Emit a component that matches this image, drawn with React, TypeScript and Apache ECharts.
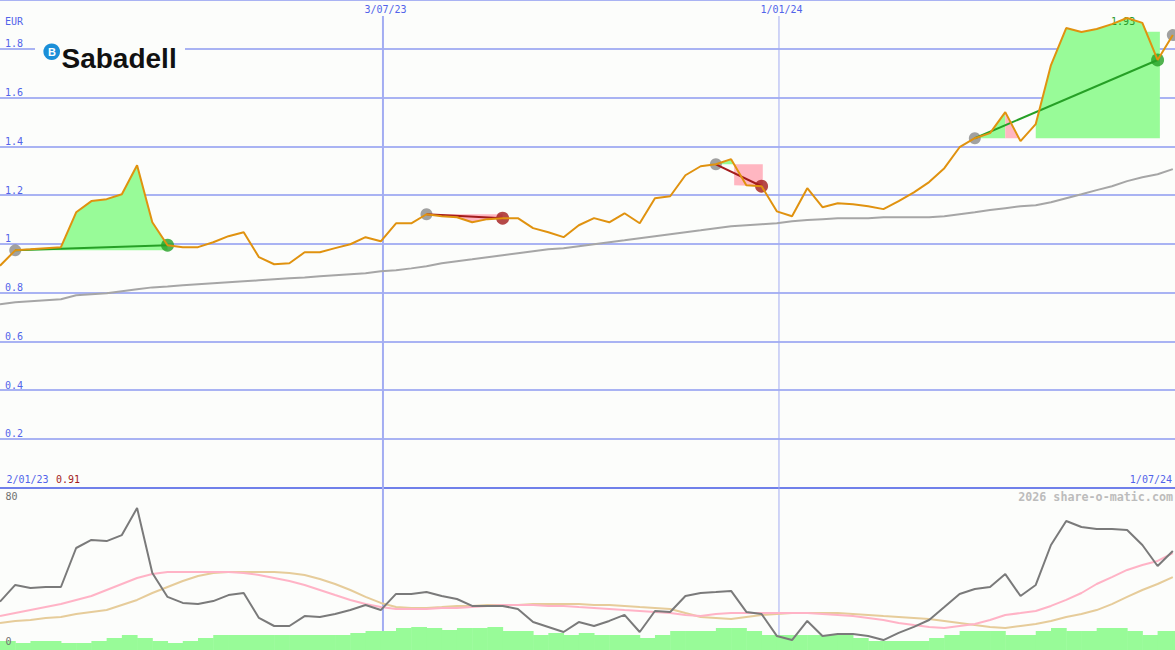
import React, { useEffect, useRef } from "react";
import * as echarts from "echarts";

// ---- dates / labels ----
const originDate = "2023-01-08"; // date of the first weekly point
const endDate = "2024-07-01";
const gridDates = ["2023-07-03", "2024-01-01"];
const gridDateLabels = ["3/07/23", "1/01/24"];
const startLabel = "2/01/23";
const endLabel = "1/07/24";
const currency = "EUR";
const credit = "2026 share-o-matic.com";
const logoText = "Sabadell";

// ---- weekly price (EUR) ----
const prices = [
  0.91, 0.973, 0.977, 0.982, 0.986, 1.129, 1.175, 1.183, 1.203, 1.322,
  1.088, 0.994, 0.986, 0.986, 1.006, 1.031, 1.047, 0.945, 0.916, 0.92,
  0.965, 0.965, 0.982, 0.998, 1.027, 1.01, 1.084, 1.084, 1.121, 1.113,
  1.109, 1.088, 1.101, 1.105, 1.105, 1.064, 1.047, 1.027, 1.076, 1.105,
  1.088, 1.125, 1.084, 1.187, 1.195, 1.281, 1.318, 1.326, 1.347, 1.24,
  1.236, 1.133, 1.113, 1.228, 1.15, 1.166, 1.162, 1.154, 1.142, 1.175,
  1.211, 1.253, 1.31, 1.396, 1.433, 1.454, 1.54, 1.421, 1.491, 1.733,
  1.885, 1.869, 1.881, 1.901, 1.926, 1.906, 1.754, 1.856,
];

// ---- long moving average ----
const movingAvg = [
  0.752, 0.76, 0.764, 0.768, 0.772, 0.789, 0.793, 0.797, 0.805, 0.813,
  0.821, 0.825, 0.83, 0.834, 0.838, 0.842, 0.846, 0.85, 0.854, 0.858,
  0.862, 0.867, 0.871, 0.875, 0.879, 0.887, 0.891, 0.899, 0.908, 0.92,
  0.928, 0.936, 0.945, 0.953, 0.961, 0.969, 0.977, 0.982, 0.99, 0.998,
  1.006, 1.014, 1.023, 1.031, 1.039, 1.047, 1.055, 1.064, 1.072, 1.076,
  1.08, 1.084, 1.092, 1.097, 1.101, 1.105, 1.105, 1.105, 1.109, 1.109,
  1.109, 1.109, 1.113, 1.121, 1.129, 1.138, 1.146, 1.154, 1.158, 1.17,
  1.187, 1.203, 1.22, 1.236, 1.257, 1.273, 1.285, 1.306,
];

// ---- lower panel oscillator (0..80) ----
const oscillator = [
  25.8, 34.7, 33.1, 33.6, 33.6, 54.4, 58.7, 58.1, 61.3, 75.7,
  41.1, 28.3, 25.1, 24.5, 26.1, 29.3, 30.4, 17.1, 12.8, 12.8,
  18.1, 17.6, 19.2, 21.3, 24.0, 21.3, 29.9, 29.9, 30.9, 28.8,
  27.2, 23.5, 23.5, 23.5, 21.9, 14.9, 12.3, 9.6, 14.9, 12.8,
  15.5, 18.7, 9.6, 20.8, 20.3, 28.8, 30.4, 30.9, 31.5, 20.3,
  19.2, 7.5, 5.3, 15.5, 7.5, 8.5, 8.5, 7.5, 5.3, 9.1,
  12.3, 16.0, 22.9, 29.9, 32.5, 33.6, 40.5, 28.8, 34.7, 56.0,
  68.8, 65.6, 64.5, 64.5, 64.0, 56.0, 44.8, 52.8,
];
const oscFast = [
  18.1, 19.7, 21.3, 22.9, 24.5, 26.7, 28.8, 32.0, 35.2, 38.4,
  40.5, 41.6, 41.6, 41.6, 41.6, 41.6, 41.1, 40.0, 38.4, 36.8,
  34.7, 32.0, 29.3, 26.7, 24.5, 22.9, 21.9, 21.9, 21.9, 22.4,
  22.4, 22.9, 23.5, 24.0, 24.0, 24.0, 23.5, 23.5, 22.9, 22.4,
  21.9, 21.3, 20.8, 20.3, 19.7, 18.7, 18.1, 19.2, 19.7, 19.7,
  19.7, 19.7, 19.7, 19.7, 19.2, 18.7, 18.1, 17.1, 16.0, 14.4,
  13.3, 12.3, 11.7, 12.8, 13.9, 16.0, 18.7, 19.7, 20.8, 23.5,
  26.7, 30.4, 35.2, 38.9, 42.7, 45.3, 47.5, 51.7,
];
const oscSlow = [
  14.4, 15.5, 16.0, 17.1, 17.6, 19.2, 20.3, 21.3, 24.0, 26.7,
  30.4, 33.6, 36.8, 39.5, 41.1, 41.6, 41.6, 41.6, 41.6, 41.1,
  40.0, 37.9, 35.2, 32.0, 28.3, 25.1, 22.9, 22.4, 22.4, 22.9,
  23.5, 23.5, 24.0, 24.0, 24.0, 24.5, 24.5, 24.5, 24.5, 24.0,
  24.0, 23.5, 22.9, 22.4, 21.9, 19.7, 17.6, 17.1, 16.5, 17.6,
  18.7, 19.2, 19.7, 19.7, 19.7, 19.7, 19.2, 18.7, 18.1, 17.6,
  17.1, 16.5, 15.5, 14.4, 13.3, 12.3, 11.7, 12.8, 13.9, 15.5,
  17.6, 19.2, 21.3, 24.5, 28.3, 32.0, 35.2, 38.9,
];
// ---- weekly volume (relative units) ----
const volume = [
  9, 7, 9, 9, 7, 7, 9, 12, 15, 12,
  9, 7, 9, 12, 15, 15, 15, 15, 15, 15,
  15, 15, 15, 17, 19, 19, 22, 23, 22, 20,
  22, 22, 23, 19, 19, 15, 17, 15, 17, 15,
  15, 15, 12, 15, 19, 19, 19, 22, 22, 19,
  15, 15, 15, 15, 15, 15, 12, 9, 9, 9,
  9, 12, 15, 19, 19, 19, 15, 15, 19, 22,
  19, 19, 22, 22, 19, 15, 19, 19,
];

// ---- trades (week indices) ----
const tradeEntries = [1, 28, 47, 64, 77];
const tradeExits = [11, 33, 50, 76];

// ---- fill profiles (week, price) ----
const fillTrade3Up = [[47, 1.326], [48, 1.347], [48.2, 1.326]];
const fillTrade3Down = [[48.2, 1.24], [50.08, 1.236]];
const fillTrade4UpA = [[64, 1.433], [65, 1.454], [66, 1.54]];
const fillTrade4Down = [[66, 1.54], [66.9, 1.433]];
const fillTrade4UpB = [
  [68, 1.491], [69, 1.733], [70, 1.885], [71, 1.869], [72, 1.881],
  [73, 1.901], [74, 1.926], [75, 1.906], [75.3, 1.87], [76.15, 1.87],
];

const C = {
  bg: "#fcfdfb",
  grid: "#a9b3f3",
  vgrid: "#a3adf2",
  axis: "#7080ea",
  label: "#5264ea",
  price: "#e0920f",
  ma: "#a6a6a6",
  up: "#98fb98",
  down: "#ffb6c1",
  win: "#26a026",
  loss: "#a31c1c",
  entry: "#8a8a8a",
  osc: "#7a7a7a",
  oscFast: "#ffb3c6",
  oscSlow: "#e6cc9a",
  vol: "#98fb98",
};
const MONO = '"DejaVu Sans Mono", monospace';

const weekIndex = (d: string) =>
  (Date.parse(d) - Date.parse(originDate)) / (7 * 86400000);

const idxPts = (from: number, to: number) =>
  prices.slice(from, to + 1).map((v, i) => [from + i, v]);

export default function App() {
  const ref = useRef<HTMLDivElement>(null);
  useEffect(() => {
    if (!ref.current) return;
    const chart = echarts.init(ref.current, undefined, { renderer: "svg" });
    const xMax = weekIndex(endDate);

    const fills = [
      { color: C.up, base: prices[tradeEntries[0]], pts: idxPts(tradeEntries[0], tradeExits[0]) },
      { color: C.down, base: prices[tradeEntries[1]], pts: idxPts(tradeEntries[1], tradeExits[1]) },
      { color: C.up, base: prices[tradeEntries[2]], pts: fillTrade3Up },
      { color: C.down, base: prices[tradeEntries[2]], pts: fillTrade3Down },
      { color: C.up, base: prices[tradeEntries[3]], pts: fillTrade4UpA },
      { color: C.down, base: prices[tradeEntries[3]], pts: fillTrade4Down },
      { color: C.up, base: prices[tradeEntries[3]], pts: fillTrade4UpB },
    ];

    const tradeLines = tradeExits.map((ex, i) => {
      const en = tradeEntries[i];
      const win = prices[ex] > prices[en];
      return {
        coords: [[en, prices[en]], [ex, prices[ex]]],
        lineStyle: { color: win ? C.win : C.loss },
      };
    });
    const dots: any[] = [];
    tradeEntries.forEach((en) =>
      dots.push({ value: [en, prices[en]], symbolSize: 12, itemStyle: { color: C.entry } })
    );
    tradeExits.forEach((ex, i) => {
      const win = prices[ex] > prices[tradeEntries[i]];
      dots.push({ value: [ex, prices[ex]], symbolSize: 13, itemStyle: { color: win ? C.win : C.loss } });
    });

    const option: any = {
      animation: false,
      backgroundColor: C.bg,
      grid: [
        { left: 0, right: 0, top: 0, height: 487.5 },
        { left: 0, right: 0, top: 500, height: 150 },
      ],
      xAxis: [
        {
          type: "value", gridIndex: 0, min: 0, max: xMax,
          axisLine: { show: true, onZero: false, lineStyle: { color: C.axis, width: 2 } },
          axisTick: { show: false }, axisLabel: { show: false }, splitLine: { show: false },
        },
        { type: "value", gridIndex: 1, min: 0, max: xMax, show: false },
      ],
      yAxis: [
        {
          type: "value", gridIndex: 0, min: 0, max: 2, interval: 0.2,
          axisLine: { show: false }, axisTick: { show: false },
          splitLine: { show: true, lineStyle: { color: C.grid, width: 2 } },
          axisLabel: {
            inside: true, margin: 5, color: C.label, fontSize: 10, fontFamily: MONO,
            verticalAlign: "bottom",
            formatter: (v: number) => (v < 0.01 || v > 1.99 ? "" : String(Math.round(v * 10) / 10)),
          },
        },
        { type: "value", gridIndex: 1, min: 0, max: 80, show: false },
        { type: "value", gridIndex: 1, min: 0, max: 150, show: false },
      ],
      series: [
        {
          type: "custom", name: "fills", xAxisIndex: 0, yAxisIndex: 0, z: 2, silent: true,
          encode: { x: 0, y: 1 },
          data: fills.map((f) => [f.pts[0][0], f.base]),
          renderItem: (params: any, api: any) => {
            const f = fills[params.dataIndex];
            const pts = f.pts.map((p) => api.coord(p));
            const by = api.coord([0, f.base])[1];
            const poly = [...pts, [pts[pts.length - 1][0], by], [pts[0][0], by]];
            return { type: "polygon", shape: { points: poly }, style: { fill: f.color } };
          },
        },
        {
          type: "line", name: "MA", xAxisIndex: 0, yAxisIndex: 0, z: 3, symbol: "none",
          data: movingAvg.map((v, i) => [i, v]),
          lineStyle: { color: C.ma, width: 2 },
        },
        {
          type: "scatter", name: "signals", xAxisIndex: 0, yAxisIndex: 0, z: 4,
          symbol: "circle", data: dots,
        },
        {
          type: "lines", name: "trades", coordinateSystem: "cartesian2d",
          xAxisIndex: 0, yAxisIndex: 0, z: 5,
          lineStyle: { width: 2, opacity: 1 }, data: tradeLines,
        },
        {
          type: "line", name: "price", xAxisIndex: 0, yAxisIndex: 0, z: 6, symbol: "none",
          data: prices.map((v, i) => [i, v]),
          lineStyle: { color: C.price, width: 2 },
        },
        {
          type: "custom", name: "volume", xAxisIndex: 1, yAxisIndex: 2, z: 2, silent: true,
          encode: { x: 0, y: 1 },
          data: volume.map((v, i) => [i, v]),
          renderItem: (params: any, api: any) => {
            const k = api.value(0);
            const v = api.value(1);
            const p0 = api.coord([k, v]);
            const p1 = api.coord([k + 1, 0]);
            return {
              type: "rect",
              shape: { x: p0[0], y: p0[1], width: p1[0] - p0[0] + 0.5, height: p1[1] - p0[1] },
              style: { fill: C.vol },
            };
          },
        },
        {
          type: "line", name: "slow", xAxisIndex: 1, yAxisIndex: 1, z: 3, symbol: "none",
          data: oscSlow.map((v, i) => [i, v]), lineStyle: { color: C.oscSlow, width: 2 },
        },
        {
          type: "line", name: "fast", xAxisIndex: 1, yAxisIndex: 1, z: 4, symbol: "none",
          data: oscFast.map((v, i) => [i, v]), lineStyle: { color: C.oscFast, width: 2 },
        },
        {
          type: "line", name: "osc", xAxisIndex: 1, yAxisIndex: 1, z: 5, symbol: "none",
          data: oscillator.map((v, i) => [i, v]), lineStyle: { color: C.osc, width: 2 },
        },
      ],
    };
    chart.setOption(option);

    const txt = (text: string, x: number, y: number, fill: string, align = "left", font = `10px ${MONO}`, z = 10) => ({
      type: "text", x, y, z,
      style: { text, fill, font, align, verticalAlign: "middle", textAlign: align, textVerticalAlign: "middle" },
    });

    const graphics: any[] = [];
    gridDates.forEach((d, i) => {
      const px = chart.convertToPixel({ xAxisIndex: 0 }, weekIndex(d)) as number;
      graphics.push({
        type: "line", z: 1, silent: true,
        shape: { x1: px, y1: 16, x2: px, y2: 650 },
        style: { stroke: C.vgrid, lineWidth: i === 0 ? 2 : 1 },
      });
      graphics.push(txt(gridDateLabels[i], px + 2.5, 9, C.label, "center"));
    });
    // logo
    graphics.push({ type: "rect", z: 1, shape: { x: 35, y: 37, width: 150, height: 38 }, style: { fill: C.bg } });
    graphics.push({ type: "circle", z: 11, shape: { cx: 51.7, cy: 51.7, r: 8.3 }, style: { fill: "#1b8fd8" } });
    graphics.push(txt("B", 51.9, 52.2, "#ffffff", "center", 'bold 11px "Liberation Sans", Arial, sans-serif', 12));
    graphics.push(txt(logoText, 61.5, 58.5, "#111111", "left", 'bold 28px "Liberation Sans", Arial, sans-serif', 11));
    graphics.push(txt(currency, 5, 21.5, C.label));
    graphics.push(txt(startLabel, 6.5, 479, C.label));
    graphics.push(txt(prices[0].toFixed(2), 56, 479, C.loss));
    graphics.push(txt(endLabel, 1172, 479, C.label, "right"));
    graphics.push(txt(credit, 1173, 496.5, "#bcbcbc", "right", `bold 11.7px ${MONO}`));
    const y80 = chart.convertToPixel({ yAxisIndex: 1 }, 80) as number;
    const y0 = chart.convertToPixel({ yAxisIndex: 1 }, 0) as number;
    graphics.push(txt("80", 5.5, y80 - 3.5, "#707070"));
    graphics.push(txt("0", 5.5, y0 - 8.5, "#707070"));
    // high label
    let hi = 0;
    prices.forEach((v, i) => { if (v > prices[hi]) hi = i; });
    const hp = chart.convertToPixel({ gridIndex: 0 }, [hi, prices[hi]]) as number[];
    graphics.push(txt(prices[hi].toFixed(2), hp[0] - 4, hp[1] + 3, "#2a9a2a", "center", `10px ${MONO}`, 5));

    chart.setOption({ graphic: graphics });
    return () => chart.dispose();
  }, []);
  return (
    <div
      ref={ref}
      style={{ position: "absolute", left: 0, top: 0, width: 1175, height: 650 }}
    />
  );
}
